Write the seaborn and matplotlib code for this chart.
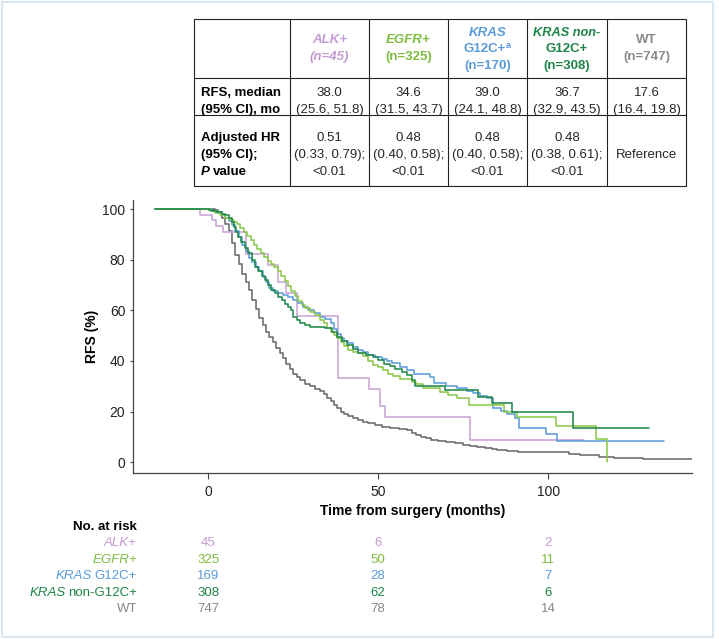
import seaborn as sns
import matplotlib.pyplot as plt
import matplotlib.transforms as mtransforms
from matplotlib.patches import Rectangle

# Kaplan-Meier curves (months, RFS %)
alk_t = [-15.6, -2.4, 1.1, 2.4, 4.5, 11.2, 17.5, 20.4, 23.0, 26.1, 38.3, 47.2, 50.6, 52.0, 77.0, 110.4]
alk_s = [100, 97.8, 95.6, 93.3, 91.1, 82.2, 77.8, 71.1, 66.7, 57.8, 33.3, 28.9, 22.2, 17.8, 8.9, 8.9]

egfr_t = [-15.6, 0.5, 2.0, 3.5, 5.0, 6.5, 7.5, 8.5, 9.5, 10.5, 11.5, 12.5, 13.5, 14.5, 15.5, 16.5,
          17.5, 18.5, 19.5, 20.5, 21.5, 22.5, 23.5, 24.5, 25.5, 26.5, 27.5, 28.5, 30.0, 31.5, 33.0,
          34.0, 35.0, 36.0, 37.0, 38.0, 39.0, 40.0, 41.0, 42.5, 44.0, 45.5, 47.0, 48.5, 50.0, 51.5,
          53.0, 54.5, 56.5, 60.0, 61.0, 63.3, 68.2, 70.5, 73.1, 76.6, 86.9, 90.8, 102.4, 114.0, 117.2]
egfr_s = [100, 99.4, 98.5, 97.5, 96.5, 95.7, 95.0, 94.0, 92.5, 91.0, 89.3, 87.8, 86.0, 84.2, 82.5, 81.0,
          79.5, 78.5, 77.0, 75.5, 73.5, 71.5, 69.5, 67.5, 65.5, 63.8, 62.2, 61.0, 59.5, 58.0, 56.0,
          54.8, 53.0, 51.5, 50.3, 49.2, 47.5, 45.8, 44.5, 43.5, 43.0, 42.0, 40.0, 38.5, 37.5, 36.4,
          35.0, 34.2, 32.7, 31.5, 31.0, 29.1, 27.8, 26.5, 25.2, 22.5, 19.9, 17.9, 14.2, 9.3, 0.2]

g12c_t = [-15.6, 1.0, 2.5, 4.0, 5.0, 6.0, 7.0, 8.0, 9.0, 10.0, 11.0, 12.0, 13.0, 14.0, 15.0, 16.0,
          17.0, 18.0, 19.0, 20.5, 22.0, 23.5, 25.0, 26.5, 28.0, 29.5, 31.0, 33.0, 34.5, 36.0, 37.0,
          38.0, 39.0, 40.0, 41.0, 42.5, 44.0, 45.5, 47.0, 49.0, 51.0, 52.5, 54.0, 56.5, 58.5, 60.4,
          65.3, 66.3, 70.0, 73.1, 76.0, 78.0, 80.0, 81.9, 83.9, 86.0, 87.8, 90.3, 91.3, 99.4, 102.7, 134.0]
g12c_s = [100, 99.4, 98.8, 97.6, 96.5, 95.3, 93.7, 91.5, 88.8, 86.0, 83.5, 80.8, 79.0, 77.0, 75.5, 73.0,
          71.0, 69.0, 67.5, 66.7, 66.0, 65.3, 64.0, 62.7, 61.3, 60.1, 59.0, 57.5, 56.5, 54.8, 52.5,
          50.5, 49.0, 48.0, 46.9, 45.5, 44.3, 43.5, 42.5, 41.5, 40.6, 39.8, 39.0, 37.7, 36.4, 35.0,
          33.7, 31.1, 30.2, 29.1, 28.0, 27.2, 26.2, 25.2, 21.2, 20.2, 19.2, 17.3, 13.3, 11.1, 8.4, 8.4]

nong12c_t = [-15.6, 0.3, 1.5, 2.6, 4.0, 5.0, 6.0, 6.9, 7.5, 8.2, 8.9, 9.8, 10.8, 11.8, 12.8, 13.8,
             14.8, 15.7, 16.7, 17.6, 18.6, 19.6, 20.6, 21.6, 22.6, 23.5, 24.5, 25.0, 26.0, 27.1, 28.5,
             30.0, 34.5, 36.3, 37.8, 39.3, 40.8, 42.5, 44.1, 46.5, 48.6, 50.0, 51.6, 53.5, 55.0, 56.9,
             58.5, 59.9, 60.9, 69.7, 79.5, 83.4, 89.5, 107.4, 129.8]
nong12c_s = [100, 99.7, 99.3, 98.9, 98.2, 97.6, 96.5, 95.0, 93.0, 91.0, 89.1, 87.0, 84.8, 82.5, 80.0, 77.2,
             75.5, 73.5, 72.0, 70.0, 68.0, 66.8, 65.3, 64.0, 62.5, 61.3, 60.1, 57.5, 56.1, 54.8, 54.2,
             53.4, 52.9, 51.4, 49.5, 47.8, 46.2, 44.8, 43.2, 42.2, 41.5, 40.3, 38.9, 37.8, 36.8, 35.6,
             34.3, 32.4, 30.0, 28.5, 25.8, 23.2, 19.9, 13.3, 13.3]

wt_t = [-15.6, 2.0, 3.0, 4.0, 5.0, 6.0, 7.0, 8.0, 9.0, 10.0, 11.0, 12.0, 13.0, 14.0, 15.0, 16.0, 17.0,
        18.0, 19.0, 20.0, 21.0, 22.0, 23.0, 24.0, 25.0, 26.0, 27.0, 28.5, 30.0, 31.5, 33.0, 34.0, 35.0,
        36.0, 37.0, 38.0, 39.0, 40.0, 41.0, 42.5, 44.0, 45.5, 47.0, 49.0, 51.0, 53.5, 56.0, 58.5, 60.0,
        61.0, 62.5, 64.0, 65.5, 67.5, 70.0, 72.5, 75.0, 77.0, 79.0, 81.5, 83.5, 85.0, 88.0, 91.0, 106.0,
        109.5, 115.0, 119.5, 128.0, 142.3]
wt_s = [100, 99.6, 98.9, 96.5, 94.3, 91.5, 86.5, 82.0, 78.5, 74.5, 71.0, 68.0, 64.0, 60.5, 57.0, 54.0, 51.5,
        49.5, 47.5, 45.2, 43.3, 41.0, 38.8, 36.8, 35.0, 33.8, 32.5, 31.0, 30.0, 29.0, 28.2, 27.0, 25.5,
        24.0, 22.5, 21.2, 20.0, 19.0, 18.3, 17.5, 16.6, 15.9, 15.3, 14.6, 14.0, 13.4, 13.1, 12.6, 11.6,
        10.7, 10.1, 9.4, 8.8, 8.4, 8.0, 7.4, 6.8, 6.3, 6.0, 5.6, 5.2, 4.7, 4.3, 4.1, 3.4,
        2.8, 2.1, 1.5, 1.2, 1.2]

# number at risk
risk_times = [0, 50, 100]
alk_risk = [45, 6, 2]
egfr_risk = [325, 50, 11]
g12c_risk = [169, 28, 7]
nong12c_risk = [308, 62, 6]
wt_risk = [747, 78, 14]

# summary table
medians = ["38.0", "34.6", "39.0", "36.7", "17.6"]
median_ci = ["(25.6, 51.8)", "(31.5, 43.7)", "(24.1, 48.8)", "(32.9, 43.5)", "(16.4, 19.8)"]
hrs = ["0.51", "0.48", "0.48", "0.48"]
hr_ci = ["(0.33, 0.79);", "(0.40, 0.58);", "(0.40, 0.58);", "(0.38, 0.61);"]
pvals = ["<0.01", "<0.01", "<0.01", "<0.01"]

line_cols = ["#c9a3d6", "#8cc84b", "#5d9cd8", "#22884a", "#6b6b6b"]
text_cols = ["#c39bd3", "#7dbd3e", "#5b9bd5", "#1e8449", "#888888"]

sns.set_style("ticks")
plt.rcParams["font.family"] = ["Liberation Sans", "DejaVu Sans"]

fig = plt.figure(figsize=(7.19, 6.39), dpi=100)

# pixel-coordinate layer for the tables and the frame
ax_t = fig.add_axes([0, 0, 1, 1])
ax_t.set_xlim(0, 719)
ax_t.set_ylim(639, 0)
ax_t.axis("off")
ax_t.add_patch(Rectangle((1.5, 2), 711, 635, fill=False, edgecolor="#dce6ef", lw=1.5))

renderer = fig.canvas.get_renderer()


def rich(x, y, parts, ha="center", size=9.5, color="black"):
    # one line made of differently styled pieces
    texts, widths = [], []
    for s, st in parts:
        kw = dict(size=size, color=color, va="center", ha="left")
        kw.update(st)
        dy = kw.pop("dy", 0)
        gap = kw.pop("gap", 0)
        t = ax_t.text(0, y + dy, s, **kw)
        texts.append(t)
        widths.append(t.get_window_extent(renderer).width + gap)
    total = sum(widths)
    if ha == "center":
        x0 = x - total / 2
    elif ha == "right":
        x0 = x - total
    else:
        x0 = x
    for t, w in zip(texts, widths):
        t.set_x(x0)
        x0 += w


B = dict(weight="bold")
BI = dict(weight="bold", style="italic")
I = dict(style="italic")
SP = 2.7  # space width in px

# ---- summary table ----
xs = [194, 290, 369, 448, 527, 607, 686]
ys = [19, 78, 115, 186]
for x in xs:
    ax_t.plot([x, x], [ys[0], ys[-1]], color="#222222", lw=0.8)
for y in ys:
    ax_t.plot([xs[0], xs[-1]], [y, y], color="#222222", lw=0.8)
cx = [(xs[i] + xs[i + 1]) / 2 for i in range(1, 6)]

rich(cx[0], 40, [("ALK+", BI)], color=text_cols[0])
rich(cx[0], 57, [("(n=45)", BI)], color=text_cols[0])
rich(cx[1], 40, [("EGFR+", BI)], color=text_cols[1])
rich(cx[1], 57, [("(n=325)", B)], color=text_cols[1])
rich(cx[2], 32.5, [("KRAS", BI)], color=text_cols[2])
rich(cx[2], 49, [("G12C+", B), ("a", dict(weight="bold", size=6.5, dy=-3))], color=text_cols[2])
rich(cx[2], 65.5, [("(n=170)", B)], color=text_cols[2])
rich(cx[3], 32.5, [("KRAS non-", BI)], color=text_cols[3], size=9.2)
rich(cx[3], 49, [("G12C+", B)], color=text_cols[3])
rich(cx[3], 65.5, [("(n=308)", B)], color=text_cols[3])
rich(cx[4], 40, [("WT", B)], color=text_cols[4])
rich(cx[4], 57, [("(n=747)", B)], color=text_cols[4])

rich(201, 93, [("RFS, median", B)], ha="left")
rich(201, 110, [("(95% CI), mo", B)], ha="left")
rich(201, 138, [("Adjusted HR", B)], ha="left")
rich(201, 155, [("(95% CI);", B)], ha="left")
rich(201, 172, [("P", dict(weight="bold", style="italic", gap=SP)), ("value", B)], ha="left")
for i in range(5):
    ax_t.text(cx[i], 93, medians[i], ha="center", va="center", size=9.5)
    ax_t.text(cx[i], 110, median_ci[i], ha="center", va="center", size=9.5)
for i in range(4):
    ax_t.text(cx[i], 138, hrs[i], ha="center", va="center", size=9.5)
    ax_t.text(cx[i], 155, hr_ci[i], ha="center", va="center", size=9.5)
    ax_t.text(cx[i], 172, pvals[i], ha="center", va="center", size=9.5)
ax_t.text(cx[4], 155, "Reference", ha="center", va="center", size=9.5)

# ---- KM plot ----
ax = fig.add_axes([133 / 719, 1 - 473 / 639, (692 - 133) / 719, (473 - 200) / 639])
ax.set_facecolor("none")
curves = [(alk_t, alk_s), (egfr_t, egfr_s), (g12c_t, g12c_s), (nong12c_t, nong12c_s), (wt_t, wt_s)]
for i in [4, 0, 2, 1, 3]:
    t, s = curves[i]
    sns.lineplot(x=t, y=s, ax=ax, color=line_cols[i], lw=1.15, drawstyle="steps-post",
                 estimator=None, sort=False)

ax.set_xlim(-22.1, 142.3)
ax.set_ylim(-4.3, 103.6)
ax.set_xticks([0, 50, 100])
ax.set_yticks([0, 20, 40, 60, 80, 100])
sns.despine(ax=ax)
for sp in ["left", "bottom"]:
    ax.spines[sp].set_color("#444444")
    ax.spines[sp].set_linewidth(0.9)
ax.tick_params(axis="x", length=4.5, width=0.8, color="#444444", labelsize=10, pad=4, labelcolor="#222222")
ax.tick_params(axis="y", length=2.5, width=0.8, color="#444444", labelsize=10, pad=3, labelcolor="#222222")
ax.set_xlabel("Time from surgery (months)", fontsize=10, fontweight="bold", labelpad=4, color="black")
ax.set_ylabel("RFS (%)", fontsize=10, fontweight="bold", labelpad=2, color="black")

# ---- number at risk ----
rich(137, 527, [("No. at risk", B)], ha="right", size=9.5)
risk_labels = [
    [("ALK+", I)],
    [("EGFR+", I)],
    [("KRAS", dict(style="italic", gap=SP)), ("G12C+", {})],
    [("KRAS", dict(style="italic", gap=SP)), ("non-G12C+", {})],
    [("WT", {})],
]
risk_rows = [alk_risk, egfr_risk, g12c_risk, nong12c_risk, wt_risk]
row_y = [543, 560, 576, 593, 609]
blend = mtransforms.blended_transform_factory(ax.transData, ax_t.transData)
for i in range(5):
    rich(137, row_y[i], risk_labels[i], ha="right", size=9.5, color=text_cols[i])
    for tt, n in zip(risk_times, risk_rows[i]):
        ax_t.text(tt, row_y[i], str(n), transform=blend, ha="center", va="center",
                  size=9.5, color=text_cols[i])

fig.savefig("out.png", dpi=100)
